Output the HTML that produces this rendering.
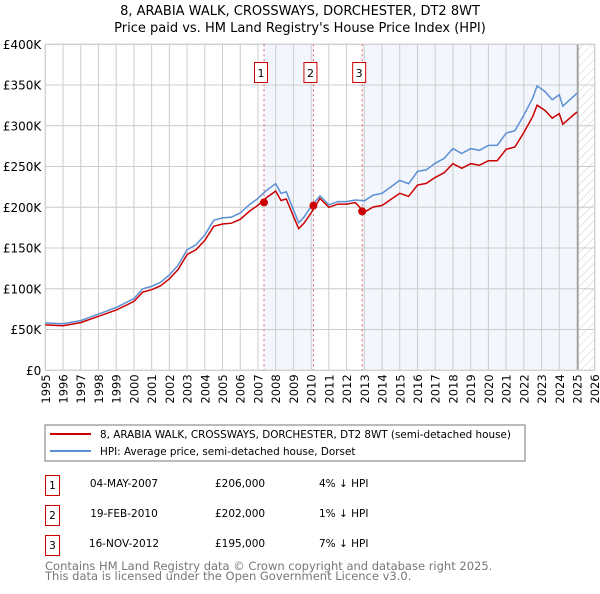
<!DOCTYPE html>
<html><head><meta charset="utf-8"><style>
body{margin:0;background:#fff;font-family:"DejaVu Sans","Liberation Sans",sans-serif}
svg text{font-family:"DejaVu Sans","Liberation Sans",sans-serif}
</style></head><body>
<svg id="c" width="600" height="590" xmlns="http://www.w3.org/2000/svg">
<defs><pattern id="hatch" width="6" height="6" patternUnits="userSpaceOnUse" patternTransform="rotate(45)"><line x1="0" y1="0" x2="0" y2="6" stroke="#ccc" stroke-width="1"/></pattern></defs>
<text x="300" y="15" text-anchor="middle" font-size="13">8, ARABIA WALK, CROSSWAYS, DORCHESTER, DT2 8WT</text>
<text x="300" y="32" text-anchor="middle" font-size="13">Price paid vs. HM Land Registry's House Price Index (HPI)</text>
<g id="plot"></g>
<rect x="45" y="425" width="480" height="36" fill="#fff" stroke="#777"/>
<line x1="50" y1="434" x2="91" y2="434" stroke="#cc0000" stroke-width="2"/>
<text x="100" y="438" font-size="10.4">8, ARABIA WALK, CROSSWAYS, DORCHESTER, DT2 8WT (semi-detached house)</text>
<line x1="50" y1="451" x2="91" y2="451" stroke="#5b8fd4" stroke-width="2"/>
<text x="100" y="455" font-size="10.4">HPI: Average price, semi-detached house, Dorset</text>
<g font-size="10.5">
<rect x="45.5" y="475.5" width="14" height="20" fill="#fff" stroke="#c00"/><text x="52.5" y="489" text-anchor="middle">1</text>
<text x="124" y="487" text-anchor="middle">04-MAY-2007</text><text x="215" y="487">£206,000</text><text x="319" y="487">4% ↓ HPI</text>
<rect x="45.5" y="505.5" width="14" height="20" fill="#fff" stroke="#c00"/><text x="52.5" y="519" text-anchor="middle">2</text>
<text x="124" y="517" text-anchor="middle">19-FEB-2010</text><text x="215" y="517">£202,000</text><text x="319" y="517">1% ↓ HPI</text>
<rect x="45.5" y="535.5" width="14" height="20" fill="#fff" stroke="#c00"/><text x="52.5" y="549" text-anchor="middle">3</text>
<text x="124" y="547" text-anchor="middle">16-NOV-2012</text><text x="215" y="547">£195,000</text><text x="319" y="547">7% ↓ HPI</text>
</g>
<text x="45" y="570" font-size="11.5" fill="#777">Contains HM Land Registry data © Crown copyright and database right 2025.</text>
<text x="45" y="580" font-size="11.5" fill="#777">This data is licensed under the Open Government Licence v3.0.</text>
</svg>
<script>
const hpiYears=[1995,1996,1997,1998,1999,2000,2000.5,2001,2001.5,2002,2002.5,2003,2003.5,2004,2004.5,2005,2005.5,2006,2006.5,2007,2007.5,2008,2008.3,2008.6,2009,2009.3,2009.6,2010,2010.5,2011,2011.5,2012,2012.5,2013,2013.5,2014,2014.5,2015,2015.5,2016,2016.5,2017,2017.5,2018,2018.5,2019,2019.5,2020,2020.5,2021,2021.5,2022,2022.5,2022.75,2023.2,2023.6,2024,2024.2,2024.6,2025];
const hpiValues=[58,57,61,69,77,88,100,103,108,117,129,148,154,166,184,187,188,193,203,211,221,229,217,219,197,181,188,201,214,203,207,207,209,208,215,217,225,233,229,244,246,254,260,272,266,272,270,276,276,291,294,313,334,349,342,332,338,324,332,340];
const saleYears=[2007.34,2010.13,2012.88];
const salePrices=[206,202,195];
const saleLabels=["1","2","3"];
const priceFactors=[0.96,0.985,0.932];
const yTicks=[0,50,100,150,200,250,300,350,400];
const yTickLabels=["£0","£50K","£100K","£150K","£200K","£250K","£300K","£350K","£400K"];
const xTicks=[1995,1996,1997,1998,1999,2000,2001,2002,2003,2004,2005,2006,2007,2008,2009,2010,2011,2012,2013,2014,2015,2016,2017,2018,2019,2020,2021,2022,2023,2024,2025,2026];
const X0=45.3,X1=594.7,Y0=370.3,Y1=44.3,dataEnd=2025.05;
const x=v=>X0+(v-1995)/31*(X1-X0);
const y=v=>Y0-v/400*(Y0-Y1);
const NS="http://www.w3.org/2000/svg",g=document.getElementById('plot');
function mk(t,a){const e=document.createElementNS(NS,t);for(const k in a)e.setAttribute(k,a[k]);g.appendChild(e);return e;}
let e;
e=mk('rect',{x:x(saleYears[0]),y:Y1,width:x(saleYears[1])-x(saleYears[0]),height:Y0-Y1,fill:'#eef3fc',opacity:0.7});


e=mk('rect',{x:x(saleYears[2]),y:Y1,width:x(dataEnd)-x(saleYears[2]),height:Y0-Y1,fill:'#eef3fc',opacity:0.7});


e=mk('rect',{x:x(dataEnd),y:Y1,width:X1-x(dataEnd),height:Y0-Y1,fill:'url(#hatch)'});


xTicks.forEach(t=>{
 e=mk('line',{x1:x(t),x2:x(t),y1:Y1,y2:Y0,stroke:'#ccc'});
 
 
 e=mk('text',{transform:`translate(${x(t)+4.5},${Y0+4}) rotate(-90)`,'text-anchor':'end','font-size':'11.5'});
 e.textContent=t;
 
 
});
yTicks.forEach((t,i)=>{
 e=mk('line',{x1:X0,x2:X1,y1:y(t),y2:y(t),stroke:'#ccc'});
 
 
 e=mk('text',{x:X0-4,y:y(t)+4.5,'text-anchor':'end','font-size':'12'});
 e.textContent=yTickLabels[i];
 
 
});
e=mk('line',{x1:x(dataEnd),x2:x(dataEnd),y1:Y1,y2:Y0,stroke:'#999','stroke-width':1.5});


e=mk('rect',{x:X0,y:Y1,width:X1-X0,height:Y0-Y1,fill:'none',stroke:'#ccc'});


saleYears.forEach((s,i)=>{
 e=mk('line',{x1:x(s),x2:x(s),y1:Y1,y2:Y0,stroke:'#e06060','stroke-dasharray':'2,3'});
 
 
 e=mk('rect',{x:x(s)-9.5,y:62.5,width:13,height:20,fill:'#fff',stroke:'#c00'});
 
 
 e=mk('text',{x:x(s)-3,y:77,'text-anchor':'middle','font-size':'11'});
 e.textContent=saleLabels[i];
 
 
});
const hp=hpiYears.map((t,i)=>`${x(t).toFixed(1)},${y(hpiValues[i]).toFixed(1)}`).join(' ');
e=mk('polyline',{points:hp,fill:'none',stroke:'#5b8fd4','stroke-width':1.5});


function fac(t){return t<saleYears[1]?priceFactors[0]:t<saleYears[2]?priceFactors[1]:priceFactors[2];}
const rp=hpiYears.map((t,i)=>`${x(t).toFixed(1)},${y(hpiValues[i]*fac(t)).toFixed(1)}`).join(' ');
e=mk('polyline',{points:rp,fill:'none',stroke:'#cc0000','stroke-width':1.5});


saleYears.forEach((s,i)=>{
 e=mk('circle',{cx:x(s),cy:y(salePrices[i]),r:4,fill:'#cc0000'});
 
 
});
</script>
</body></html>
